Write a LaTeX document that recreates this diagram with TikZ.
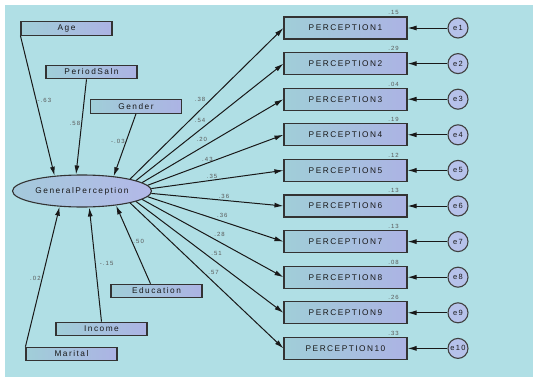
\documentclass[tikz,border=0pt]{standalone}
\usepackage{fontspec}
\usepackage{tikz}
\usetikzlibrary{arrows.meta,shapes.geometric}
\newfontfamily\amosfont[LetterSpace=18]{Liberation Sans}
\definecolor{bgcyan}{HTML}{B0DFE5}
\definecolor{boxl}{HTML}{A0CED8}
\definecolor{boxr}{HTML}{ACB3E4}
\definecolor{ellr}{HTML}{B3B8E8}
\definecolor{errfill}{HTML}{B6C2EA}

\begin{document}
\begin{tikzpicture}[x=1pt,y=-1pt,line width=0.8,
    obs/.style={draw=black!80,line width=1.1,left color=boxl,right color=boxr,
      minimum width=91,minimum height=13.5,inner sep=0pt,
      font=\amosfont\fontsize{8.3}{9}\selectfont,text=black!90},
    perc/.style={obs,minimum width=123,minimum height=22},
    latent/.style={ellipse,draw=black!80,line width=1.1,left color=boxl!80!ellr,right color=ellr,
      minimum width=139,minimum height=32,inner sep=0pt,
      font=\amosfont\fontsize{8.3}{9}\selectfont,text=black!90},
    err/.style={circle,draw=black!75,line width=1.1,fill=errfill,minimum size=20,inner sep=0pt,
      font=\amosfont\fontsize{7.5}{8}\selectfont,text=black!90},
    lbl/.style={font=\amosfont\fontsize{6}{7}\selectfont,text=black!65,inner sep=1pt},
    arr/.style={draw=black!90,line width=1,-{Latex[length=9pt,width=5pt]}}]
  \useasboundingbox (0,0) rectangle (533,380);
  \fill[white] (0,0) rectangle (533,380);
  \fill[bgcyan] (5,5) rectangle (533,377);

  \node[latent] (gp) at (82,191) {GeneralPerception};
  \node[obs] (age) at (66.5,28.5) {Age};
  \node[obs] (psal) at (91.5,72) {PeriodSaln};
  \node[obs] (gender) at (136,106.5) {Gender};
  \node[obs] (edu) at (156.5,291) {Education};
  \node[obs] (income) at (101.5,329) {Income};
  \node[obs] (marital) at (71.5,354) {Marital};

  \draw[arr] (age.south west)--(gp.151) node[lbl,pos=.46,anchor=west]{-.63};
  \draw[arr] ([xshift=-5]psal.south)--(gp.110) node[lbl,pos=.46,anchor=east]{.58};
  \draw[arr] (gender.south)--(gp.25) node[lbl,pos=.44,anchor=east]{-.03};
  \draw[arr] ([xshift=-6]edu.north)--(gp.-23) node[lbl,pos=.54,anchor=west]{.50};
  \draw[arr] (income.north)--(gp.-66) node[lbl,pos=.51,anchor=west,xshift=3]{-.15};
  \draw[arr] (marital.north west)--(gp.-145) node[lbl,pos=.49,anchor=east]{.02};

  \foreach \i/\var/\load/\ang/\p/\anc in {1/.15/.38/14/.5/south east,2/.29/.54/11/.48/south east,
      3/.04/.20/8/.47/south east,4/.19/.43/5/.44/south,5/.12/.35/2/.46/south,
      6/.13/.36/-2/.55/south,7/.13/.36/-5/.5/south west,8/.08/.28/-8/.5/south west,
      9/.26/.51/-11/.5/south west,10/.33/.57/-14/.5/south west}{
    \node[perc] (p\i) at (345.5,{28+35.6*(\i-1)}) {PERCEPTION\i};
    \node[err] (e\i) at (458,{28+35.6*(\i-1)}) {e\i};
    \node[lbl,anchor=south] (v\i) at ([xshift=-14]p\i.north east) {\var};
    \draw[arr] (e\i)--(p\i);
    \draw[arr] (gp.\ang)--(p\i.west) node[lbl,pos=\p,anchor=\anc]{\load};
  }
\end{tikzpicture}
\end{document}
